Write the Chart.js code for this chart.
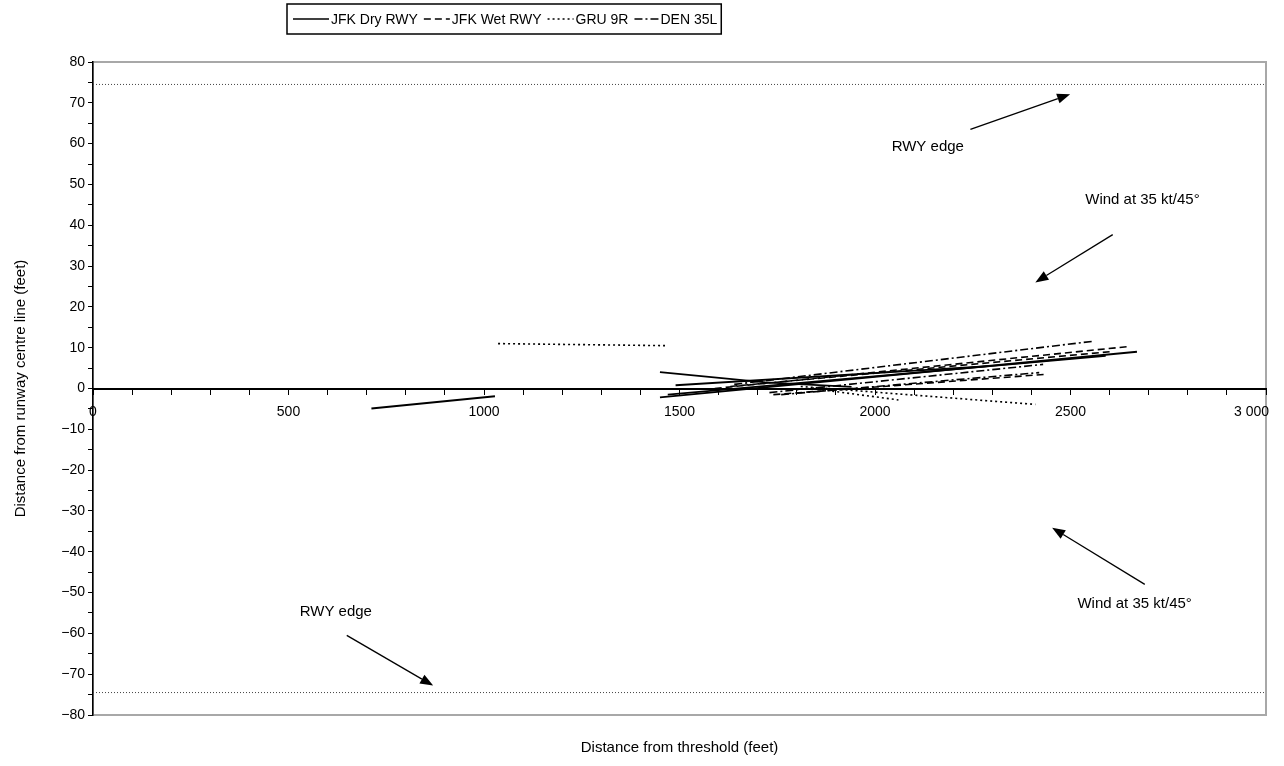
<!DOCTYPE html>
<html>
<head>
<meta charset="utf-8">
<script src="https://cdn.jsdelivr.net/npm/chart.js@4.4.1/dist/chart.umd.min.js"></script>
<style>
  html, body { margin: 0; padding: 0; background: #fff; }
  #wrap { width: 1284px; height: 766px; }
</style>
</head>
<body>
<div id="wrap"><canvas id="chart" width="1284" height="766"></canvas></div>
<script>
// series labels (legend order)
const seriesLabels = ['JFK Dry RWY', 'JFK Wet RWY', 'GRU 9R', 'DEN 35L'];

// lateral tracks: [distance from threshold (ft), offset from centre line (ft)]
const jfkDryTracks = [
  [[712, -4.9], [1028, -1.9]],
  [[1450, -2.2], [2670, 9.0]],
  [[1470, -1.5], [2590, 8.0]],
  [[1450, 4.0], [1720, 1.5], [1940, 0.4]],
  [[1490, 0.8], [2290, 5.5]]
];
const jfkWetTracks = [
  [[1590, 0.0], [2650, 10.3]],
  [[1630, 0.5], [2600, 9.0]],
  [[1740, -1.5], [2440, 3.5]]
];
const gru9rTracks = [
  [[1036, 11.0], [1463, 10.5]],
  [[1810, 0.5], [2410, -3.9]],
  [[1840, 0.0], [2060, -2.8]]
];
const den35lTracks = [
  [[1640, 1.0], [2560, 11.6]],
  [[1730, -1.0], [2430, 5.9]],
  [[1760, -1.5], [2420, 3.9]]
];

// runway edges (ft from centre line)
const rwyEdges = [74.5, -74.5];

// axis ranges
const xMin = 0, xMax = 3000, xStep = 100, xLabelStep = 500;
const yMin = -80, yMax = 80, yStep = 5, yLabelStep = 10;

// annotation texts and arrows, in data units
const noteTexts = ['RWY edge', 'Wind at 35 kt/45°', 'Wind at 35 kt/45°', 'RWY edge'];
const noteX = [2135, 2684, 2664, 621];
const noteY = [59.1, 46.3, -52.7, -54.7];
const arrowFrom = [[2244, 63.5], [2608, 37.7], [2690, -48.0], [649, -60.5]];
const arrowTo = [[2499, 72.1], [2410, 26.0], [2453, -34.1], [870, -72.8]];

const FONT = "'Liberation Sans', Arial, Helvetica, sans-serif";
Chart.defaults.font.family = FONT;
Chart.defaults.color = '#000';

const dashes = [[], [7, 4], [2, 3], [8, 3, 2, 3]];
const legendLineLen = [36, 26, 26, 24];
const groups = [jfkDryTracks, jfkWetTracks, gru9rTracks, den35lTracks];

const datasets = [];
groups.forEach((tracks, gi) => {
  tracks.forEach(tr => {
    datasets.push({
      label: seriesLabels[gi],
      data: tr.map(p => ({ x: p[0], y: p[1] })),
      borderColor: '#000',
      borderWidth: gi === 0 ? 1.8 : 1.6,
      borderDash: dashes[gi],
      pointRadius: 0,
      showLine: true,
      fill: false,
      tension: 0
    });
  });
});
rwyEdges.forEach(v => {
  datasets.push({
    label: '_edge',
    data: [{ x: xMin, y: v }, { x: xMax, y: v }],
    borderColor: '#444',
    borderWidth: 1,
    borderDash: [1, 2],
    pointRadius: 0,
    showLine: true,
    fill: false
  });
});

const fmtNum = v => (v < 0 ? '\u2212' + Math.abs(v) : String(v));

// plot frame, custom boxed legend, texts and arrows
const decor = {
  id: 'decor',
  beforeDraw(chart) {
    const { ctx, chartArea: a } = chart;
    ctx.save();
    ctx.strokeStyle = '#a8a8a8';
    ctx.lineWidth = 2;
    ctx.strokeRect(a.left, a.top, a.right - a.left, a.bottom - a.top);
    ctx.restore();
  },
  afterDraw(chart) {
    const { ctx, chartArea: a } = chart;
    const xs = chart.scales.x, ys = chart.scales.y;
    ctx.save();

    // last x label sits inside the frame, as in the source
    ctx.font = '14px ' + FONT;
    ctx.fillStyle = '#000';
    ctx.textAlign = 'right';
    ctx.textBaseline = 'alphabetic';
    ctx.fillText('3 000', a.right + 3, ys.getPixelForValue(0) + 27);

    // legend
    ctx.font = '14px ' + FONT;
    ctx.textBaseline = 'middle';
    const start = 287, top = 4, h = 30, cy = top + h / 2;
    let x = start + 6;
    seriesLabels.forEach((lab, i) => {
      ctx.beginPath();
      ctx.setLineDash(dashes[i]);
      ctx.lineWidth = 1.3;
      ctx.strokeStyle = '#000';
      ctx.moveTo(x, cy);
      ctx.lineTo(x + legendLineLen[i], cy);
      ctx.stroke();
      ctx.setLineDash([]);
      ctx.textAlign = 'left';
      ctx.fillText(lab, x + legendLineLen[i] + 2, cy + 1);
      x += legendLineLen[i] + 2 + ctx.measureText(lab).width + 6;
    });
    ctx.lineWidth = 1.5;
    ctx.strokeStyle = '#000';
    ctx.strokeRect(start, top, x - 2 - start, h);

    // notes
    ctx.font = '15px ' + FONT;
    ctx.textAlign = 'center';
    noteTexts.forEach((t, i) => {
      ctx.fillText(t, xs.getPixelForValue(noteX[i]), ys.getPixelForValue(noteY[i]));
    });
    // arrows
    arrowFrom.forEach((f, i) => {
      const x1 = xs.getPixelForValue(f[0]), y1 = ys.getPixelForValue(f[1]);
      const x2 = xs.getPixelForValue(arrowTo[i][0]), y2 = ys.getPixelForValue(arrowTo[i][1]);
      const ang = Math.atan2(y2 - y1, x2 - x1);
      const hl = 13, hw = 5;
      ctx.beginPath();
      ctx.lineWidth = 1.3;
      ctx.moveTo(x1, y1);
      ctx.lineTo(x2 - hl * Math.cos(ang), y2 - hl * Math.sin(ang));
      ctx.stroke();
      ctx.beginPath();
      ctx.moveTo(x2, y2);
      ctx.lineTo(x2 - hl * Math.cos(ang) + hw * Math.sin(ang), y2 - hl * Math.sin(ang) - hw * Math.cos(ang));
      ctx.lineTo(x2 - hl * Math.cos(ang) - hw * Math.sin(ang), y2 - hl * Math.sin(ang) + hw * Math.cos(ang));
      ctx.closePath();
      ctx.fill();
    });
    ctx.restore();
  }
};

new Chart(document.getElementById('chart'), {
  type: 'scatter',
  data: { datasets },
  plugins: [decor],
  options: {
    responsive: false,
    devicePixelRatio: 1,
    animation: false,
    layout: { padding: { top: 62, right: 0, left: 0, bottom: 0 } },
    plugins: {
      legend: { display: false },
      tooltip: { enabled: false }
    },
    scales: {
      x: {
        type: 'linear',
        position: { y: 0 },
        min: xMin, max: xMax,
        ticks: {
          stepSize: xStep,
          autoSkip: false,
          maxRotation: 0,
          padding: 10,
          font: { size: 14 },
          color: '#000',
          callback: v => (v % xLabelStep === 0 && v !== xMax ? fmtNum(v) : '')
        },
        grid: { drawOnChartArea: false, drawTicks: true, tickLength: 5, color: '#000' },
        border: { display: true, color: '#000', width: 2 },
        afterFit: s => { s.paddingRight = 18; }
      },
      x2: {
        type: 'linear',
        position: 'bottom',
        min: xMin, max: xMax,
        ticks: { display: false },
        grid: { display: false, drawTicks: false },
        border: { display: false },
        title: { display: true, text: 'Distance from threshold (feet)', font: { size: 15 }, color: '#000', padding: { top: 0, bottom: 9 } },
        afterFit: s => { s.height = 51; }
      },
      y: {
        type: 'linear',
        position: 'left',
        min: yMin, max: yMax,
        ticks: {
          stepSize: yStep,
          autoSkip: false,
          padding: 3,
          font: { size: 14 },
          color: '#000',
          callback: v => (v % yLabelStep === 0 ? fmtNum(v) : '')
        },
        grid: { drawOnChartArea: false, drawTicks: true, tickLength: 5, color: '#000' },
        border: { display: true, color: '#000', width: 1.5 },
        title: { display: true, text: 'Distance from runway centre line (feet)', font: { size: 15 }, color: '#000', padding: { top: 12, bottom: 0 } },
        afterFit: s => { s.width = 93; }
      }
    }
  }
});
</script>
</body>
</html>
